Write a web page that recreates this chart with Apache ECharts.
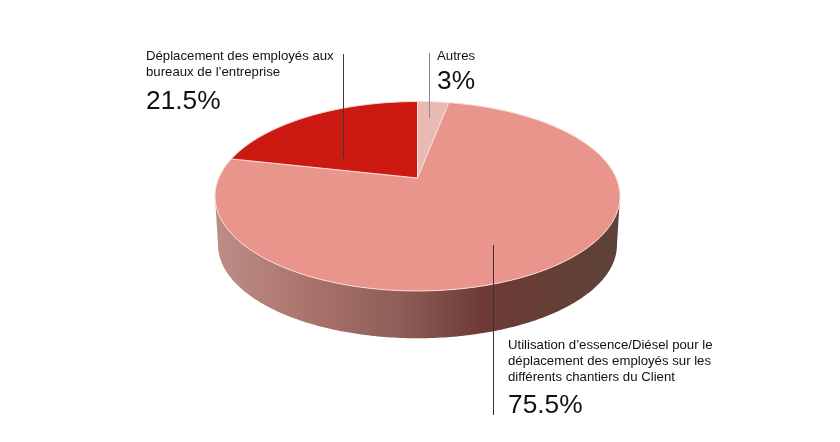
<!DOCTYPE html>
<html><head><meta charset="utf-8">
<script src="https://cdn.jsdelivr.net/npm/echarts@6/dist/echarts.min.js"></script>
<style>html,body{margin:0;padding:0;background:#fff}#c{width:840px;height:442px}</style>
</head><body><div id="c"></div>
<script>
const categories = ['Autres', 'Utilisation d\u2019essence/Diésel pour le\ndéplacement des employés sur les\ndifférents chantiers du Client', 'Déplacement des employés aux\nbureaux de l\u2019entreprise'];
const values = [3, 75.5, 21.5];
const valueLabels = ['3%', '75.5%', '21.5%'];
const sliceColors = ['#e9b9b3', '#ea958b', '#cc1a12'];

// pie projection (a circle seen in perspective)
const CX = 417.5, CY = 178, A = 198.7, B = 91.2, P = 0.1926, DEPTH = 49;
function proj(theta, dy, s) {
  const u = Math.sin(theta), v = Math.cos(theta), w = 1 + P * v;
  return [CX + s * A * u / w, CY + dy - s * B * v / w];
}
const total = values.reduce((a, b) => a + b, 0);
function sliceItem(params) {
  const i = params.dataIndex;
  const before = values.slice(0, i).reduce((a, b) => a + b, 0);
  const t0 = before / total * 2 * Math.PI, t1 = (before + values[i]) / total * 2 * Math.PI;
  const pts = [[CX, CY]];
  const n = Math.max(2, Math.ceil((t1 - t0) / 0.02));
  for (let k = 0; k <= n; k++) pts.push(proj(t0 + (t1 - t0) * k / n, 0, 1));
  return { type: 'polygon', shape: { points: pts },
    style: { fill: sliceColors[i], stroke: '#f9dcd8', lineWidth: 1, lineJoin: 'round' } };
}
function sideItem() {
  const t = Math.acos(-P); // silhouette tangent angle
  const pts = [];
  const n = 200;
  for (let k = 0; k <= n; k++) pts.push(proj(t + (2 * Math.PI - 2 * t) * k / n, DEPTH, 0.985));
  for (let k = n; k >= 0; k--) pts.push(proj(t + (2 * Math.PI - 2 * t) * k / n, 0, 1));
  return { type: 'polygon', shape: { points: pts }, style: {
    fill: new echarts.graphic.LinearGradient(215, 0, 620, 0, [
      { offset: 0, color: '#bd8d87' }, { offset: 0.2, color: '#ae7770' },
      { offset: 0.45, color: '#8f5e58' }, { offset: 0.66, color: '#6e3a36' },
      { offset: 0.8, color: '#673d35' }, { offset: 1, color: '#5c433b' }
    ], true) } };
}
const txt = (x, y, s, size, lh) => ({ type: 'text', x, y, z: 100, silent: true, style: {
  text: s, fill: '#111', font: size + 'px "Liberation Sans", Arial, sans-serif', lineHeight: lh, textVerticalAlign: 'top' } });
const line = (x, y1, y2, c) => ({ type: 'line', z: 100, silent: true, shape: { x1: x, y1, x2: x, y2 }, style: { stroke: c, lineWidth: 1 } });

const chart = echarts.init(document.getElementById('c'), null, { renderer: 'canvas' });
chart.setOption({
  animation: false,
  backgroundColor: '#fff',
  series: [
    { type: 'custom', coordinateSystem: 'none', silent: true, z: 1, data: [[total]], renderItem: sideItem },
    { type: 'custom', coordinateSystem: 'none', silent: true, z: 2, data: values.map(v => [v]), renderItem: sliceItem }
  ],
  graphic: { elements: [
    line(343.5, 54, 158, '#3a3a3a'),
    line(429.5, 53, 118, '#8a8a8a'),
    line(493.5, 245, 415, '#3a3030'),
    txt(146, 49, categories[2], 13.2, 15.5),
    txt(146, 87, valueLabels[2], 26.3, 30),
    txt(437, 49, categories[0], 13.2, 15.5),
    txt(437, 67, valueLabels[0], 26.3, 30),
    txt(508, 337, categories[1], 13.2, 16),
    txt(508, 391, valueLabels[1], 26.3, 30)
  ] }
});
</script></body></html>
